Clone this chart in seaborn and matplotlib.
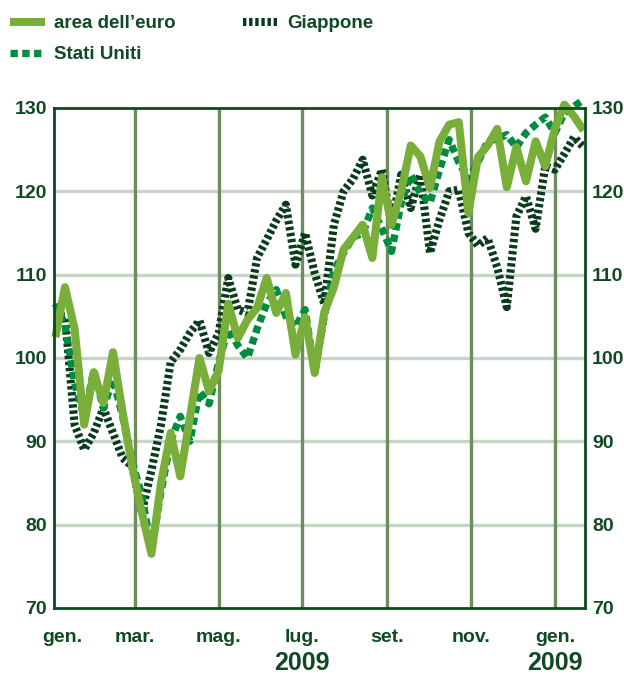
import matplotlib
matplotlib.use("Agg")
import matplotlib.pyplot as plt
import matplotlib.transforms as mtransforms
import pandas as pd
import seaborn as sns

# weekly observations, Jan 2009 - Jan 2010
weeks = pd.date_range("2009-01-02", periods=56, freq="7D")

euro = [102.5, 108.5, 103.5, 92.0, 98.3, 94.6, 100.7, 93.5, 87.0, 81.5,
        76.5, 85.0, 91.0, 85.8, 92.8, 100.0, 96.0, 98.5, 106.5, 102.4,
        104.6, 106.0, 109.6, 105.4, 107.8, 100.4, 104.9, 98.2, 105.5, 108.5,
        113.0, 114.5, 116.0, 112.0, 121.7, 116.0, 120.0, 125.5, 124.2, 120.4,
        126.0, 128.0, 128.3, 117.4, 124.1, 125.5, 127.5, 120.5, 125.3, 121.2,
        126.0, 123.0, 127.5, 130.4, 129.0, 127.3]

usa = [106.5, 104.0, 97.0, 93.0, 98.5, 94.0, 97.5, 93.0, 87.5, 83.5,
       77.0, 84.0, 90.0, 93.0, 90.0, 96.0, 94.5, 99.5, 103.5, 101.5,
       100.0, 103.5, 106.5, 108.2, 105.0, 103.7, 105.8, 98.2, 105.0, 110.5,
       112.6, 114.5, 115.0, 118.0, 115.5, 112.8, 118.6, 122.0, 119.8, 118.6,
       122.6, 126.2, 123.5, 121.4, 123.5, 126.0, 126.3, 126.8, 125.3, 127.0,
       128.0, 128.9, 127.0, 129.4, 130.2, 131.0]

japan = [105.0, 105.0, 92.0, 89.0, 91.0, 94.0, 91.0, 88.0, 87.0, 81.5,
         86.5, 92.0, 99.5, 101.0, 103.0, 104.5, 100.6, 103.0, 109.6, 105.8,
         105.4, 112.0, 114.2, 116.5, 118.4, 111.2, 115.0, 110.2, 106.5, 116.0,
         120.0, 121.5, 123.8, 119.5, 122.6, 116.0, 122.0, 118.0, 122.0, 112.6,
         116.6, 120.0, 120.2, 115.0, 113.5, 114.4, 110.9, 106.1, 117.0, 119.4,
         115.5, 123.0, 122.6, 124.5, 126.5, 125.3]

month_ticks = pd.to_datetime(["2009-01-01", "2009-03-01", "2009-05-01", "2009-07-01",
                              "2009-09-01", "2009-11-01", "2010-01-01"])
month_labels = ["gen.", "mar.", "mag.", "lug.", "set.", "nov.", "gen."]
year_ticks = pd.to_datetime(["2009-07-01", "2010-01-01"])
year_labels = ["2009", "2009"]

df = pd.DataFrame({"data": weeks, "euro": euro, "usa": usa, "japan": japan})

C_EURO = "#7aae3a"
C_USA = "#008c3e"
C_JAP = "#0c3a1c"
C_TXT = "#0f4a22"

sns.set_style("white")
plt.rcParams["font.family"] = ["Liberation Sans Narrow", "Liberation Sans", "DejaVu Sans"]
plt.rcParams["font.weight"] = "bold"

fig = plt.figure(figsize=(6.24, 6.75), dpi=100)
ax = fig.add_axes([54 / 624, 1 - 608 / 675, 531 / 624, 500 / 675])

sns.lineplot(data=df, x="data", y="japan", ax=ax, color=C_JAP, linewidth=5.8,
             linestyle=(0, (0.42, 0.34)), dash_capstyle="butt", label="Giappone",
             clip_on=False, zorder=3)
sns.lineplot(data=df, x="data", y="usa", ax=ax, color=C_USA, linewidth=5.3,
             linestyle=(0, (1.0, 0.6)), dash_capstyle="butt", label="Stati Uniti",
             clip_on=False, zorder=4)
sns.lineplot(data=df, x="data", y="euro", ax=ax, color=C_EURO, linewidth=5.8,
             solid_capstyle="butt", label="area dell\u2019euro", clip_on=False, zorder=5)

ax.set_xlim(pd.Timestamp("2009-01-01"), pd.Timestamp("2010-01-23"))
ax.set_ylim(70, 130)
ax.set_yticks(range(70, 131, 10))
ax.set_xlabel("")
ax.set_ylabel("")

# grid
for v in range(80, 130, 10):
    ax.axhline(v, color="#c6d6c4", lw=2.4, zorder=1)
for d in month_ticks[1:]:
    ax.axvline(d, color="#6f8c5c", lw=2.4, zorder=1)

for s in ax.spines.values():
    s.set_color("#0a4a1f")
    s.set_linewidth(2.0)
    s.set_zorder(6)

ax.tick_params(axis="y", length=0, labelsize=14, labelcolor=C_TXT,
               labelleft=True, labelright=True, pad=5)
ax.set_xticks(month_ticks)
ax.set_xticklabels(month_labels)
ax.tick_params(axis="x", length=0, labelsize=14, labelcolor=C_TXT, pad=15)
for lab in ax.get_yticklabels() + ax.get_xticklabels():
    lab.set_fontweight("bold")
# first "gen." sits a bit to the right of the axis edge
first = ax.get_xticklabels()[0]
first.set_transform(first.get_transform() +
                    mtransforms.ScaledTranslation(8 / 100, 0, fig.dpi_scale_trans))

ytr = mtransforms.blended_transform_factory(ax.transData, ax.transAxes)
for d, t in zip(year_ticks, year_labels):
    ax.text(d, -0.11, t, transform=ytr, ha="center", va="center",
            fontsize=18, fontweight="bold", color=C_TXT)

handles, labels = ax.get_legend_handles_labels()
ax.get_legend().remove()
order = [2, 1, 0]
leg = fig.legend([handles[i] for i in order], [labels[i] for i in order],
                 loc="upper left", bbox_to_anchor=(10 / 624, 1 - 15 / 675),
                 ncol=2, frameon=False, fontsize=13.5, handlelength=1.85,
                 handletextpad=0.5, columnspacing=3.6, labelspacing=0.75,
                 borderpad=0, borderaxespad=0)
for t in leg.get_texts():
    t.set_color(C_TXT)
    t.set_fontweight("bold")

fig.savefig("out.png", dpi=100)
